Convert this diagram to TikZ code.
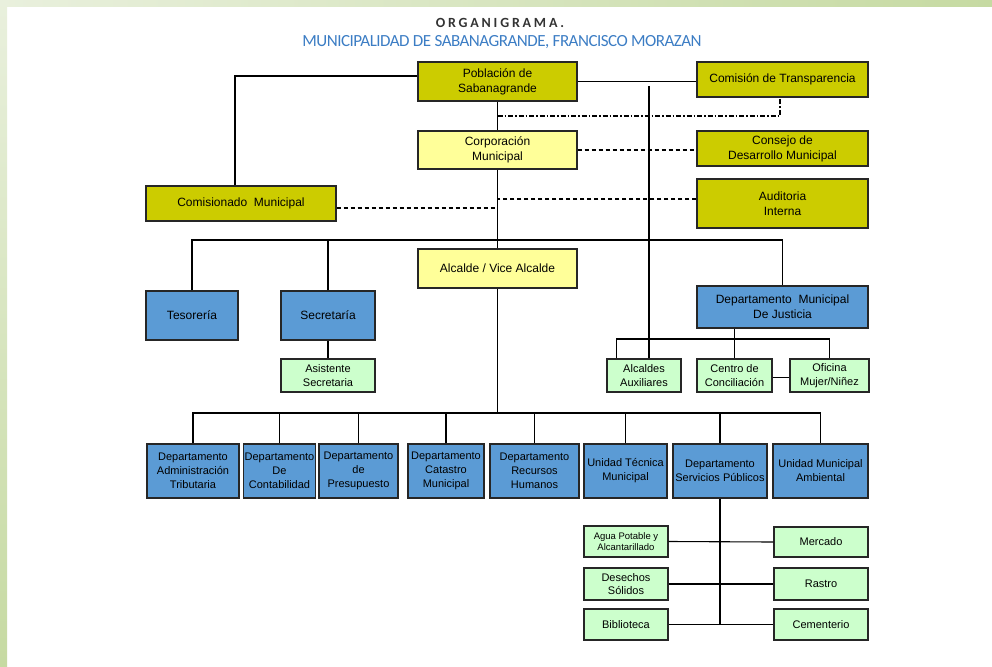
\documentclass[tikz,border=0pt]{standalone}
\usepackage{fontspec}
\setmainfont{Liberation Sans}
\newfontfamily\headfont{Carlito}
\definecolor{oliveFill}{HTML}{CCCC00}
\definecolor{paleFill}{HTML}{FFFF99}
\definecolor{blueFill}{HTML}{5B9BD5}
\definecolor{greenFill}{HTML}{CCFFCC}
\definecolor{frameA}{HTML}{E9F0DD}
\definecolor{frameB}{HTML}{C6DAA2}
\definecolor{titleBlue}{HTML}{3C7DC4}
\definecolor{titleGray}{HTML}{333333}

\begin{document}
\begin{tikzpicture}[x=1pt, y=-1pt,
  sz/.style 2 args={minimum width=#1, minimum height=#2},
  box/.style={draw=black!85, line width=1.3pt, inner sep=1pt, align=center, font=\fontsize{12}{15}\selectfont},
  topbox/.style={box, fill=oliveFill},
  palebox/.style={box, fill=paleFill},
  deptbox/.style={box, fill=blueFill},
  rowbox/.style={box, fill=blueFill, font=\fontsize{11}{14}\selectfont},
  unitbox/.style={box, fill=greenFill, font=\fontsize{11}{13.5}\selectfont},
  link/.style={line width=1.1pt},
  dashlink/.style={line width=1.1pt, dash pattern=on 4pt off 3pt},
  dotlink/.style={line width=1.1pt, dash pattern=on 5pt off 2pt on 1.5pt off 2pt}]
\useasboundingbox (0,0) rectangle (992,666);
\shade[left color=frameA, right color=frameB] (0,0) rectangle (992,7);
\shade[top color=frameA, bottom color=frameB] (0,0) rectangle (7,666);

\node[text=titleGray] (title) at (500,23) {\headfont\fontsize{14}{14}\selectfont\bfseries\addfontfeature{LetterSpace=20}ORGANIGRAMA.};
\node[text=titleBlue] (subtitle) at (502,42.5) {\headfont\fontsize{17}{17}\selectfont\addfontfeature{LetterSpace=-3}MUNICIPALIDAD DE SABANAGRANDE, FRANCISCO MORAZAN};

\node[topbox, sz={159}{39}] (pob) at (497.5,81.5) {Población de\\Sabanagrande};
\node[topbox, sz={171}{35}] (trans) at (782.5,79.5) {Comisión de Transparencia};
\node[palebox, sz={159}{38}] (corp) at (497.5,150) {Corporación\\Municipal};
\node[topbox, sz={171}{35}] (consejo) at (782.5,148.5) {Consejo de\\Desarrollo Municipal};
\node[topbox, sz={190}{35}] (comis) at (241,203.5) {Comisionado\ \ Municipal};
\node[topbox, sz={171}{49}] (audit) at (782.5,203.5) {Auditoria\\Interna};
\node[palebox, sz={159}{39}] (alcalde) at (497.5,268.5) {Alcalde / Vice Alcalde};
\node[deptbox, sz={92}{49}] (tesor) at (192,315.5) {Tesorería};
\node[deptbox, sz={94}{49}] (secre) at (328,315.5) {Secretaría};
\node[deptbox, sz={171}{42}] (justicia) at (782.5,307) {Departamento\ \ Municipal\\De Justicia};
\node[unitbox, sz={94}{33}] (asist) at (328,375.5) {Asistente\\Secretaria};
\node[unitbox, sz={74}{33}] (auxil) at (644,375.5) {Alcaldes\\Auxiliares};
\node[unitbox, sz={75}{33}] (centro) at (734.5,375.5) {Centro de\\Conciliación};
\node[unitbox, sz={79}{33}] (oficina) at (829.5,375.5) {Oficina\\Mujer/Niñez};

\node[rowbox, sz={92}{54}] (adm) at (193,471) {Departamento\\Administración\\Tributaria};
\node[rowbox, sz={69}{54}] (conta) at (279.5,471) {Departamento\\De\\Contabilidad};
\node[rowbox, sz={79}{54}] (presu) at (358.5,471) {Departamento\\de\\Presupuesto};
\node[rowbox, sz={76}{54}] (catas) at (446,471) {Departamento\\Catastro\\Municipal};
\node[rowbox, sz={89}{54}] (rrhh) at (534.5,471) {Departamento\\Recursos\\Humanos};
\node[rowbox, sz={83}{54}] (utm) at (625.5,471) {Unidad Técnica\\Municipal};
\node[rowbox, sz={94}{54}] (serv) at (720,471) {Departamento\\Servicios Públicos};
\node[rowbox, sz={95}{54}] (uma) at (820.5,471) {Unidad Municipal\\Ambiental};

\node[unitbox, sz={84}{31}, font=\fontsize{9.5}{11.5}\selectfont] (agua) at (626,541.5) {Agua Potable y\\Alcantarillado};
\node[unitbox, sz={94}{30}] (mercado) at (821,542) {Mercado};
\node[unitbox, sz={84}{32}] (desechos) at (626,584) {Desechos\\Sólidos};
\node[unitbox, sz={94}{32}] (rastro) at (821,584) {Rastro};
\node[unitbox, sz={84}{31}] (biblio) at (626,624.5) {Biblioteca};
\node[unitbox, sz={94}{31}] (cement) at (821,624.5) {Cementerio};

\coordinate (busA) at (0,240);
\coordinate (busB) at (0,339);
\coordinate (busC) at (0,413);
\coordinate (dd) at (497.5,116);
\coordinate (auxtop) at (649,86);

\draw[link] ([yshift=5.5pt]pob.west) -| ([xshift=-6pt]comis.north);
\draw[link] (pob.east) -- (pob.east -| trans.west);
\draw[link] (auxtop) -- (auxtop |- auxil.north);
\draw[link] (pob.south) -- (corp.north);
\draw[dotlink] (dd) -| ([xshift=-2.5pt]trans.south);
\draw[dashlink] (corp.east) -- (corp.east -| consejo.west);
\draw[link] (corp.south) -- (alcalde.north);
\draw[dashlink] ([yshift=4.5pt]audit.west) -- ([yshift=4.5pt]audit.west -| corp.south);
\draw[dashlink] ([yshift=-4.5pt]comis.east) -- ([yshift=-4.5pt]comis.east -| corp.south);

\draw[link] (tesor.north) |- (busA -| justicia.north) -- (justicia.north);
\draw[link] (secre.north) -- (secre.north |- busA);
\draw[link] (secre.south) -- (asist.north);
\draw[link] (centro.north |- justicia.south) -- (centro.north);
\draw[link] ([xshift=10pt]auxil.north west) |- (busB -| oficina.north) -- (oficina.north);
\draw[link] ([yshift=-2pt]centro.east) -- ([yshift=-2pt]oficina.west);

\draw[link] (alcalde.south) -- (alcalde.south |- busC);
\draw[link] (adm.north) |- (busC -| uma.north) -- (uma.north);
\foreach \n in {conta,presu,catas,rrhh,utm,serv}
  \draw[link] (\n.north) -- (\n.north |- busC);

\draw[link] (serv.south) -- (serv.south |- biblio.east);
\draw[link] (agua.east) -- (mercado.west);
\draw[link] (desechos.east) -- (rastro.west);
\draw[link] (biblio.east) -- (cement.west);
\end{tikzpicture}
\end{document}
